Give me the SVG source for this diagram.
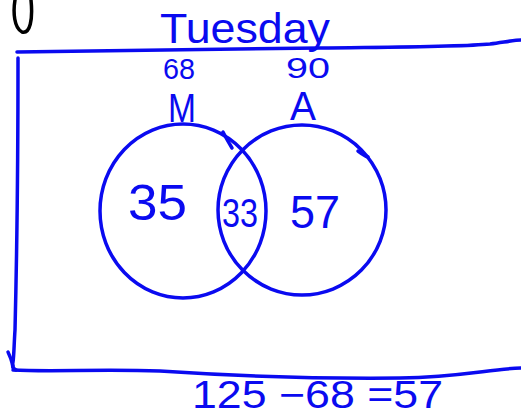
<svg xmlns="http://www.w3.org/2000/svg" width="521" height="418" viewBox="0 0 521 418">
<style>
.s{fill:none;stroke:#0a0af0;stroke-width:3.5;stroke-linecap:round;stroke-linejoin:round}
.t{fill:#0a0af0;font-family:"Liberation Sans",Arial,sans-serif}
</style>
<rect width="521" height="418" fill="#ffffff"/>
<path d="M15 0 C13 12 14 28 22 32 C30 34 33 20 31 0" fill="none" stroke="#000" stroke-width="3.5" stroke-linecap="round"/>
<g id="frame">
<path class="s" d="M17 52 C120 50 220 49 320 48 C400 47 460 47 490 44 C505 42 515 40 521 40"/>
<path class="s" d="M18 58 C18 150 17 250 15 330 C14 345 14 355 13 362 C12 366 13 369 16 370"/>
<path class="s" d="M8 352 C10 356 12 362 13 366"/>
<path class="s" d="M13 370 C50 372 100 369 160 371 C220 375 300 379 400 378 C460 377 490 369 521 368"/>
</g>
<g id="circleM">
<ellipse class="s" cx="183" cy="211" rx="83" ry="87"/>
<path class="s" d="M223 132 C226 138 229 143 232 148"/>
</g>
<g id="circleA">
<ellipse class="s" cx="302" cy="210" rx="84" ry="85"/>
<path class="s" d="M358 151 C362 154 365 156 368 157"/>
</g>
<g id="labels">
<text class="t" x="160" y="43" font-size="42" textLength="170" lengthAdjust="spacingAndGlyphs">Tuesday</text>
<text class="t" x="163" y="79" font-size="29" textLength="32" lengthAdjust="spacingAndGlyphs">68</text>
<text class="t" x="286" y="78" font-size="29" textLength="44" lengthAdjust="spacingAndGlyphs">90</text>
<text class="t" x="168" y="122" font-size="41" textLength="28" lengthAdjust="spacingAndGlyphs">M</text>
<text class="t" x="290" y="120" font-size="41" textLength="26" lengthAdjust="spacingAndGlyphs">A</text>
<text class="t" x="128" y="220" font-size="50" textLength="59" lengthAdjust="spacingAndGlyphs">35</text>
<text class="t" x="222" y="227" font-size="40" textLength="36" lengthAdjust="spacingAndGlyphs">33</text>
<text class="t" x="290" y="228" font-size="47" textLength="50" lengthAdjust="spacingAndGlyphs">57</text>
<text class="t" x="192" y="408" font-size="38" textLength="251" lengthAdjust="spacingAndGlyphs">125 −68 =57</text>
</g>
</svg>
